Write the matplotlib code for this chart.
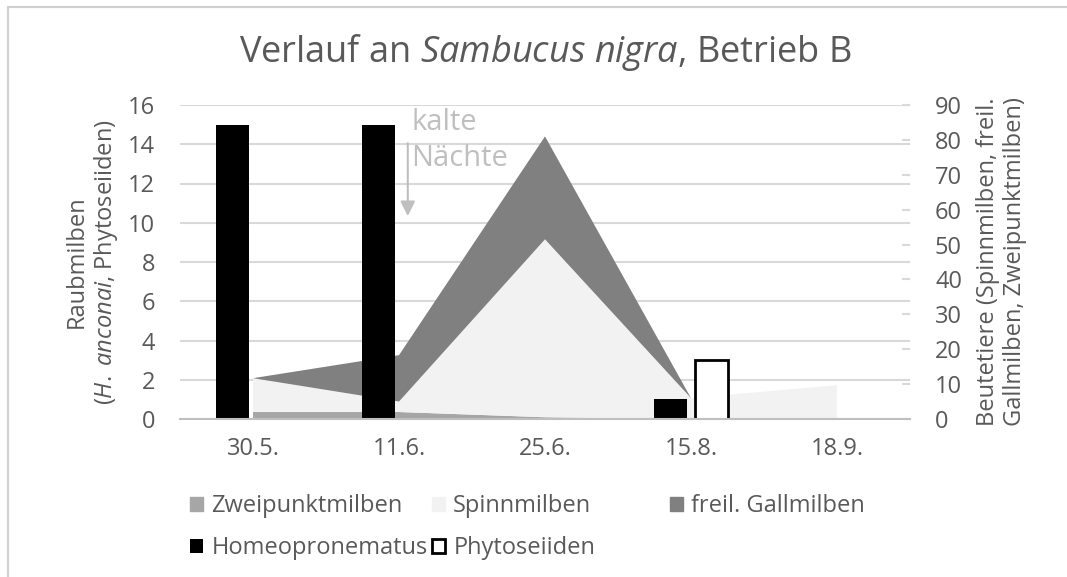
import matplotlib
matplotlib.use('Agg')
import matplotlib.pyplot as plt
from matplotlib.patches import Patch
from matplotlib.lines import Line2D

plt.rcParams['font.family'] = ['Open Sans', 'DejaVu Sans']
plt.rcParams['mathtext.fontset'] = 'custom'
plt.rcParams['mathtext.rm'] = 'Open Sans'
plt.rcParams['mathtext.it'] = 'Open Sans:italic'

dates = ['30.5.', '11.6.', '25.6.', '15.8.', '18.9.']

# Beutetiere (right axis, stacked area)
zweipunkt = [2, 2, 0.5, 0, 0]
spinn = [9.7, 3, 51, 6, 9.7]
gall = [0, 13.3, 29.5, 0, 0]

# Raubmilben (left axis, bars)
homeo = [15, 15, 0, 1, 0]
phyto = [0, 0, 0, 3, 0]

txt = '#595959'
grid = '#D9D9D9'
fs = 17

fig = plt.figure(figsize=(10.67, 5.77), dpi=100)
# chart border (only top and left visible in the crop)
fig.lines.append(Line2D([8 / 1067, 1], [1 - 7 / 577] * 2, transform=fig.transFigure,
                        color='#D0D0D0', lw=1.5))
fig.lines.append(Line2D([8 / 1067] * 2, [0, 1 - 7 / 577], transform=fig.transFigure,
                        color='#D0D0D0', lw=1.5))

ax = fig.add_axes([180 / 1067, 1 - 419 / 577, 730 / 1067, 314 / 577])
ax2 = ax.twinx()
ax3 = ax.twinx()

x = list(range(len(dates)))

# bottom layer: grid
ax.set_ylim(0, 16)
ax.set_yticks(range(0, 17, 2))
ax.grid(axis='y', color=grid, lw=1.5)
ax.set_axisbelow(True)
ax.set_xlim(-0.5, 4.5)
ax.set_xticks(x)
ax.set_xticklabels(dates)
ax.tick_params(axis='both', length=0, colors=txt, labelsize=fs)
ax.tick_params(axis='x', pad=13)
ax.tick_params(axis='y', pad=18)
for s in ax.spines.values():
    s.set_visible(False)
ax.set_ylabel('Raubmilben\n($\\mathit{H.}$ $\\mathit{anconai}$, Phytoseiiden)', color=txt,
              fontsize=fs, labelpad=6, linespacing=1.15)

# area on secondary axis
ax2.stackplot(x, zweipunkt, spinn, gall, colors=['#A6A6A6', '#F2F2F2', '#808080'])
ax2.set_ylim(0, 90)
ax2.set_yticks(range(0, 91, 10))
ax2.tick_params(axis='y', length=6, width=1.5, direction='in', color=grid, labelcolor=txt,
                labelsize=fs, pad=18)
for s in ax2.spines.values():
    s.set_visible(False)
ax2.set_ylabel('Beutetiere (Spinnmilben, freil.\nGallmilben, Zweipunktmilben)', color=txt,
               fontsize=fs, labelpad=10, linespacing=1.15)

# bars on top, primary scale (zero values are not drawn)
w = 0.225
hx = [i - 0.14 for i in x if homeo[i] > 0]
ax3.bar(hx, [v for v in homeo if v > 0], width=w, color='black')
px = [i + 0.14 for i in x if phyto[i] > 0]
ax3.bar(px, [v for v in phyto if v > 0], width=w, color='white', edgecolor='black', lw=2)
ax3.set_ylim(ax.get_ylim())
ax3.set_yticks([])
for s in ['top', 'right', 'left']:
    ax3.spines[s].set_visible(False)
ax3.spines['bottom'].set_color('#BFBFBF')
ax3.spines['bottom'].set_linewidth(1.5)

ax3.annotate('', xy=(1.06, 10.2), xytext=(1.06, 14.2),
             arrowprops=dict(arrowstyle='-|>', color='#BFBFBF', lw=1.5, mutation_scale=22))
ax3.text(1.085, 15.85, 'kalte\nNächte', color='#BFBFBF', fontsize=21, va='top', ha='left',
         linespacing=1.3)

fig.text(545 / 1067, 1 - 62 / 577, 'Verlauf an $\\mathit{Sambucus}$ $\\mathit{nigra}$, Betrieb B',
         ha='center', va='baseline', fontsize=26, color=txt)

# legend: Excel-like equal-width columns
columns = [
    ([Patch(color='#A6A6A6'), Patch(facecolor='black')],
     ['Zweipunktmilben', 'Homeopronematus'], 190),
    ([Patch(color='#F2F2F2'), Patch(facecolor='white', edgecolor='black', lw=2)],
     ['Spinnmilben', 'Phytoseiiden'], 432),
    ([Patch(color='#808080')], ['freil. Gallmilben'], 670),
]
for handles, labels, xpos in columns:
    fig.legend(handles, labels, loc='upper left', bbox_to_anchor=(xpos / 1067, 1 - 494 / 577),
               frameon=False, fontsize=fs, labelcolor=txt, handlelength=0.55,
               handleheight=0.55, handletextpad=0.35, labelspacing=0.78, borderaxespad=0,
               borderpad=0)

fig.savefig('out.png', dpi=100)
